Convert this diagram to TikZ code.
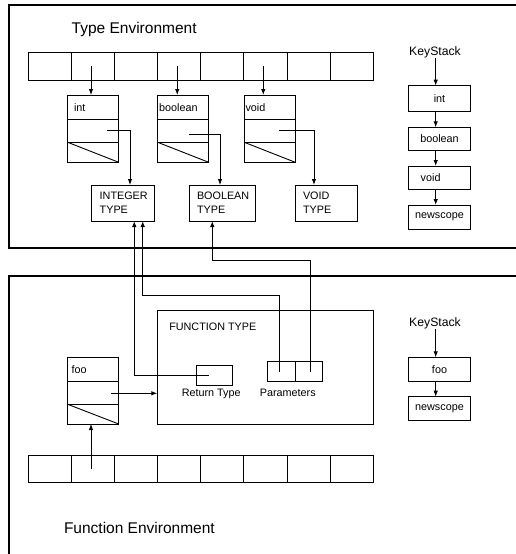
\documentclass[tikz,border=0pt]{standalone}
\usepackage{fontspec}
\setmainfont{Liberation Sans}
\usetikzlibrary{arrows.meta,calc}
\begin{document}
\begin{tikzpicture}[x=1pt,y=-1pt,
  every node/.style={inner sep=0pt, outer sep=0pt},
  thin line/.style={line width=0.9pt},
  envline/.style={line width=1.8pt},
  conn/.style={thin line, -{Latex[length=6pt,width=4.5pt]}},
  plain/.style={thin line},
  cell/.style={draw, thin line, anchor=north west, minimum width=43.125pt},
  recbox/.style={draw, thin line, anchor=north west, minimum width=51pt},
  typebox/.style={draw, thin line, anchor=north west, minimum height=36pt,
    inner xsep=8pt, align=left, font=\fontsize{10.8}{14.3}\selectfont},
  kbox/.style={draw, thin line, anchor=north west, minimum width=62.4pt,
    font=\fontsize{10.8}{13}\selectfont},
  smalltext/.style={font=\fontsize{10.8}{13}\selectfont},
  ktext/.style={font=\fontsize{12.2}{14}\selectfont, anchor=base},
  envtext/.style={font=\fontsize{15.5}{18}\selectfont, anchor=base west}]
\useasboundingbox (0,0) rectangle (516,554);
\fill[white] (0,0) rectangle (516,554);
\clip (0,0) rectangle (516,554);

% environments
\draw[envline] (530,5) -- (9,5) -- (9,247.7) -- (530,247.7);
\draw[envline] (530,275.7) -- (9,275.7) -- (9,560);
\node[envtext] (tenv) at (71.7,33.5) {Type Environment};
\node[envtext] (fenv) at (64,533.3) {Function Environment};

% arrays
\foreach \i in {1,...,8} {
  \node[cell, minimum height=27.7pt] (tc\i) at ({28.3+(\i-1)*43.125},52.3) {};
  \node[cell, minimum height=27pt] (bc\i) at ({28.3+(\i-1)*43.125},455.7) {};
}

% records in type environment
\foreach \n/\x in {int/67.7, bool/157.7, void/244.3} {
  \node[recbox, minimum height=24pt] (\n1) at (\x,95) {};
  \node[recbox, minimum height=23.3pt] (\n2) at (\x,119) {};
  \node[recbox, minimum height=20pt] (\n3) at (\x,142.3) {};
  \draw[plain] (\n3.north west) -- (\n3.south east);
}
\node[smalltext, anchor=base west] (intl) at (74,111.3) {int};
\node[smalltext, anchor=base west] (booll) at (159.2,111.3) {boolean};
\node[smalltext, anchor=base west] (voidl) at (245.5,111.3) {void};

% type boxes
\node[typebox, minimum width=62.3pt, text width=46.3pt] (inttype) at (91.7,185) {INTEGER\\TYPE};
\node[typebox, minimum width=66pt, text width=50pt] (booltype) at (189,185) {BOOLEAN\\TYPE};
\node[typebox, minimum width=62.3pt, text width=46.3pt] (voidtype) at (295,185) {VOID\\TYPE};

% array -> records
\draw[conn] ([xshift=-2pt]tc2.center) -- ([xshift=-2pt]tc2.center |- int1.north);
\draw[conn] ([xshift=-2pt]tc4.center) -- ([xshift=-2pt]tc4.center |- bool1.north);
\draw[conn] ([xshift=-2.2pt]tc6.center) -- ([xshift=-2.2pt]tc6.center |- void1.north);

% records -> types
\coordinate (intp) at (107.3,130);
\coordinate (boolp) at (189.3,134.3);
\coordinate (voidp) at (279.3,130);
\draw[conn] (intp) -| ([xshift=7.15pt]inttype.north);
\draw[conn] (boolp) -| ([xshift=-2pt]booltype.north);
\draw[conn] (voidp) -| ([xshift=-12.2pt]voidtype.north);

% KeyStack (top)
\node[ktext] (ks1) at (435,55) {KeyStack};
\node[kbox, minimum height=25.3pt] (kint) at (408.3,85.7) {int};
\node[kbox, minimum height=22.7pt] (kbool) at (408.3,127.3) {boolean};
\node[kbox, minimum height=23.3pt] (kvoid) at (408.3,166) {\makebox[62.4pt][l]{\hspace{12.4pt}void}};
\node[kbox, minimum height=24.3pt] (knew1) at (408.3,205) {newscope};
\coordinate (kx) at (435.7,0);
\draw[conn] (ks1.south -| kx) -- (kint.north -| kx);
\draw[conn] (kint.south -| kx) -- (kbool.north -| kx);
\draw[conn] (kbool.south -| kx) -- (kvoid.north -| kx);
\draw[conn] (kvoid.south -| kx) -- (knew1.north -| kx);

% function environment
\node[draw, thin line, anchor=north west, minimum width=216pt, minimum height=113.3pt] (ft) at (157.3,310.7) {};
\node[smalltext, anchor=base west] (ftl) at (169.3,330.7) {FUNCTION TYPE};
\node[draw, thin line, anchor=north west, minimum width=35.6pt, minimum height=19.3pt] (rt) at (196.7,365.7) {};
\node[smalltext, anchor=base] (rtl) at (211.2,396.7) {Return Type};
\node[draw, thin line, anchor=north west, minimum width=27.7pt, minimum height=20pt] (par1) at (267.3,361.7) {};
\node[draw, thin line, anchor=north west, minimum width=27.7pt, minimum height=20pt] (par2) at (295,361.7) {};
\node[smalltext, anchor=base] (parl) at (287.8,396.7) {Parameters};

% foo record
\node[recbox, minimum height=24.4pt] (foo1) at (67.7,357.3) {};
\node[recbox, minimum height=22.6pt] (foo2) at (67.7,381.7) {};
\node[recbox, minimum height=19.7pt] (foo3) at (67.7,404.3) {};
\draw[plain] (foo3.north west) -- (foo3.south east);
\node[smalltext, anchor=base west] (fool) at (71.7,373.8) {foo};
\coordinate (foop) at (111,393.3);
\draw[conn] (foop) -- (foop -| ft.west);
\draw[conn] ([xshift=-2pt]bc2.center) -- ([xshift=-2pt]bc2.center |- foo3.south);

% function type -> type environment
\coordinate (bend1) at (142.7,295);
\coordinate (bend2) at (212.3,260);
\draw[conn] ([xshift=-6pt]rt.center) -| ([xshift=11.45pt]inttype.south);
\draw[conn] ([xshift=-1.85pt]par1.center) |- (bend1) -- (bend1 |- inttype.south);
\draw[conn] ([xshift=1.85pt]par2.center) |- (bend2) -- (bend2 |- booltype.south);

% KeyStack (bottom)
\node[ktext] (ks2) at (435,326.7) {KeyStack};
\node[kbox, minimum height=23.7pt] (kfoo) at (408.3,357.3) {foo};
\node[kbox, minimum height=23.3pt] (knew2) at (408.3,396.7) {newscope};
\draw[conn] (ks2.south -| kx) -- (kfoo.north -| kx);
\draw[conn] (kfoo.south -| kx) -- (knew2.north -| kx);
\end{tikzpicture}
\end{document}
